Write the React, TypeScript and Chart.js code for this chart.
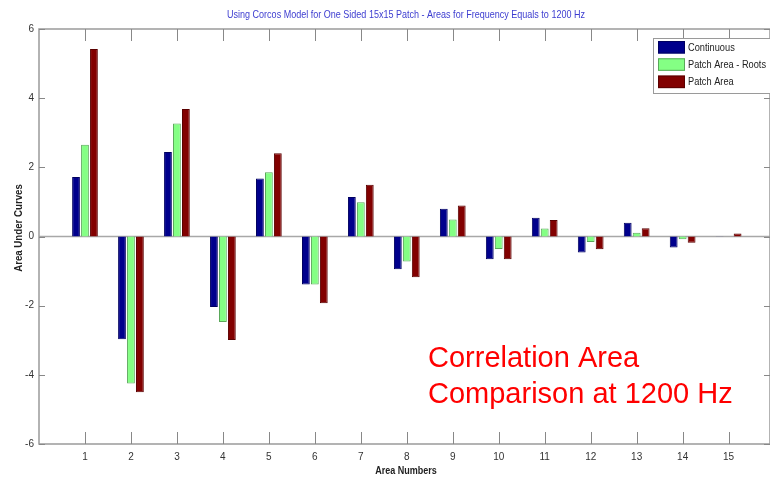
import React, { useEffect, useRef } from "react";
import { Chart, registerables } from "chart.js";

Chart.register(...registerables);

const areaNumbers = [1, 2, 3, 4, 5, 6, 7, 8, 9, 10, 11, 12, 13, 14, 15];
const continuous = [1.72, -2.97, 2.44, -2.04, 1.68, -1.39, 1.14, -0.95, 0.8, -0.66, 0.54, -0.46, 0.4, -0.32, 0.01];
const patchAreaRoots = [2.65, -4.25, 3.27, -2.47, 1.86, -1.39, 0.99, -0.72, 0.49, -0.36, 0.23, -0.16, 0.11, -0.08, 0.0];
const patchArea = [5.42, -4.5, 3.69, -2.99, 2.41, -1.93, 1.5, -1.18, 0.9, -0.66, 0.48, -0.37, 0.24, -0.18, 0.09];
const yTicks = [-6, -4, -2, 0, 2, 4, 6];

const seriesNames = ["Continuous", "Patch Area - Roots", "Patch Area"];
const seriesColors = ["#00008c", "#84ff84", "#820000"];
const seriesBorders = ["#000060", "#5aa85a", "#5a0000"];

const titleText = "Using Corcos Model for One Sided 15x15 Patch - Areas for Frequency Equals to 1200 Hz";
const xTitle = "Area Numbers";
const yTitle = "Area Under Curves";
const noteLines = ["Correlation Area", "Comparison at 1200 Hz"];

const SANS = '"Liberation Sans", Arial, sans-serif';

function narrowText(ctx: any, text: string, x: number, y: number, sx: number, align: string) {
  ctx.save();
  ctx.translate(x, y);
  ctx.scale(sx, 1);
  ctx.textAlign = align;
  ctx.fillText(text, 0, 0);
  ctx.restore();
}

const decorPlugin = {
  id: "decor",
  beforeDatasetsDraw(chart: any) {
    const { ctx, chartArea, scales } = chart;
    const y0 = scales.y.getPixelForValue(0);
    ctx.save();
    ctx.strokeStyle = "#a8a8a8";
    ctx.lineWidth = 1.5;
    ctx.beginPath();
    ctx.moveTo(chartArea.left, y0);
    ctx.lineTo(chartArea.right, y0);
    ctx.stroke();
    ctx.restore();
  },
  afterDraw(chart: any) {
    const { ctx, chartArea, scales } = chart;
    const { left, right, top, bottom } = chartArea;
    ctx.save();
    // box
    ctx.strokeStyle = "#9a9a9a";
    ctx.lineWidth = 1.5;
    ctx.strokeRect(left, top, right - left, bottom - top);
    // ticks inside
    ctx.lineWidth = 1;
    ctx.strokeStyle = "#888";
    ctx.beginPath();
    areaNumbers.forEach((n) => {
      const x = Math.round(scales.x.getPixelForValue(n)) + 0.5;
      ctx.moveTo(x, top);
      ctx.lineTo(x, top + 12);
      ctx.moveTo(x, bottom);
      ctx.lineTo(x, bottom - 12);
    });
    yTicks.forEach((v) => {
      const y = Math.round(scales.y.getPixelForValue(v)) + 0.5;
      ctx.moveTo(left, y);
      ctx.lineTo(left + 6, y);
      ctx.moveTo(right, y);
      ctx.lineTo(right - 6, y);
    });
    ctx.stroke();

    // title
    ctx.fillStyle = "#3d3dd0";
    ctx.font = `11px ${SANS}`;
    ctx.textBaseline = "middle";
    narrowText(ctx, titleText, 406, 15, 0.82, "center");

    // axis titles
    ctx.fillStyle = "#222";
    ctx.font = `bold 11px ${SANS}`;
    narrowText(ctx, xTitle, 406, 471, 0.82, "center");
    ctx.save();
    ctx.translate(19, 228);
    ctx.rotate(-Math.PI / 2);
    narrowText(ctx, yTitle, 0, 0, 0.88, "center");
    ctx.restore();

    // legend
    const lx = 653, ly = 38, lw = 118, lh = 55;
    ctx.fillStyle = "#ffffff";
    ctx.fillRect(lx, ly, lw, lh);
    ctx.strokeStyle = "#9a9a9a";
    ctx.lineWidth = 1;
    ctx.strokeRect(lx + 0.5, ly + 0.5, lw, lh);
    ctx.font = `11px ${SANS}`;
    ctx.textBaseline = "middle";
    seriesNames.forEach((name, i) => {
      const sy = 41 + i * 17.3;
      ctx.fillStyle = seriesColors[i];
      ctx.fillRect(658, sy, 27, 12.5);
      ctx.strokeStyle = seriesBorders[i];
      ctx.strokeRect(658.5, sy + 0.5, 26, 11.5);
      ctx.fillStyle = "#222";
      narrowText(ctx, name, 688, sy + 6.5, 0.84, "left");
    });

    // annotation
    ctx.fillStyle = "#ff0000";
    ctx.font = `29px ${SANS}`;
    ctx.textAlign = "left";
    ctx.textBaseline = "alphabetic";
    ctx.fillText(noteLines[0], 428, 367);
    ctx.fillText(noteLines[1], 428, 403);
    ctx.restore();
  },
};

export default function App() {
  const ref = useRef<HTMLCanvasElement | null>(null);

  useEffect(() => {
    document.body.style.margin = "0";
    const canvas = ref.current;
    if (!canvas) return;
    const seriesData = [continuous, patchAreaRoots, patchArea];
    const chart = new Chart(canvas, {
      type: "bar",
      data: {
        datasets: seriesData.map((vals, i) => ({
          label: seriesNames[i],
          data: areaNumbers.map((n, j) => ({ x: n, y: vals[j] })),
          backgroundColor: seriesColors[i],
          borderColor: seriesBorders[i],
          borderWidth: 1,
          barPercentage: 0.87,
          categoryPercentage: 0.65,
        })),
      },
      options: {
        animation: false,
        responsive: true,
        maintainAspectRatio: false,
        layout: { padding: { top: 29, right: 0, left: 0, bottom: 0 } },
        plugins: {
          legend: { display: false },
          title: { display: false },
          tooltip: { enabled: false },
        },
        scales: {
          x: {
            type: "linear",
            offset: false,
            min: 0,
            max: 15.9,
            grid: { display: false, drawTicks: false, offset: false },
            border: { display: false },
            ticks: {
              stepSize: 1,
              autoSkip: false,
              maxRotation: 0,
              padding: 7,
              color: "#333",
              font: { family: SANS, size: 10 },
              callback: (v: any) => (Number.isInteger(v) && v >= 1 && v <= 15 ? String(v) : ""),
            },
            afterFit: (s: any) => {
              s.height = 40;
              s.paddingLeft = 0;
              s.paddingRight = 0;
            },
          },
          y: {
            min: -6,
            max: 6,
            grid: { display: false, drawTicks: false },
            border: { display: false },
            ticks: {
              stepSize: 2,
              padding: 5,
              color: "#333",
              font: { family: SANS, size: 10 },
            },
            afterFit: (s: any) => {
              s.width = 39;
              s.paddingTop = 0;
              s.paddingBottom = 0;
            },
          },
        },
      },
      plugins: [decorPlugin],
    } as any);
    return () => chart.destroy();
  }, []);

  return (
    <div style={{ width: 770, height: 484, position: "relative" }}>
      <canvas ref={ref} />
    </div>
  );
}
